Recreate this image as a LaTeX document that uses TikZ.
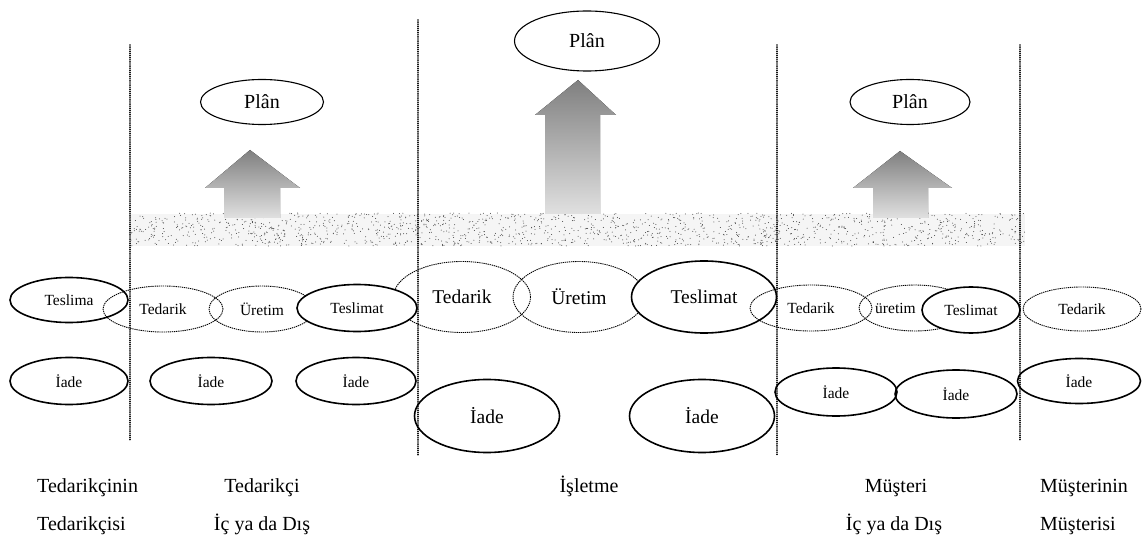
\documentclass[tikz,border=0pt]{standalone}
\usepackage{fontspec}
\setmainfont{Liberation Serif}
\usetikzlibrary{shapes.geometric}
\begin{document}
\begin{tikzpicture}[x=1pt,y=-1pt,
  ell/.style={ellipse, inner sep=0pt, minimum width=#1},
  solidell/.style={draw=black, line width=1.6pt},
  dotell/.style={draw=black, line width=0.9pt, dash pattern=on 1.3pt off 0.8pt},
  planell/.style={draw=black, line width=1.1pt, minimum height=45, font=\fontsize{20}{24}\selectfont},
  smallf/.style={font=\fontsize{15.5}{18}\selectfont, minimum height=46},
  bigf/.style={font=\fontsize{19.5}{23}\selectfont, minimum height=71},
  vline/.style={line width=1.8pt, dash pattern=on 0.01pt off 2.1pt, line cap=round},
  uparrow/.style={top color=black!50, bottom color=black!12, draw=none},
  lbl/.style={font=\fontsize{20}{24}\selectfont, anchor=base, inner sep=0pt}
]
\useasboundingbox (0,0) rectangle (1145,537);

% speckled band
\fill[black!4] (130,214) rectangle (1025,246);
\pgfmathsetseed{7}
\foreach \i in {1,...,1500}{
  \fill[black!75] ({130+895*rnd},{213+33*rnd}) circle[radius=0.5];
}

% upward arrows
\fill[uparrow] (250,150) -- (300,188) -- (280,188) -- (280,218) -- (224,218) -- (224,188) -- (205,188) -- cycle;
\fill[uparrow] (578,80) -- (616,115) -- (600,115) -- (600,214) -- (545,214) -- (545,115) -- (535,115) -- cycle;
\fill[uparrow] (900,151) -- (952,188) -- (928,188) -- (928,218) -- (873,218) -- (873,188) -- (853,188) -- cycle;

% Plan ellipses
\node[ell=123, planell] (p1) at (262,102) {Plân};
\node[ell=145, planell, minimum height=60] (p2) at (587,41) {Plân};
\node[ell=120, planell] (p3) at (910,102) {Plân};

% left section
\node[ell=118, smallf, solidell, minimum height=45] (t1) at (69,300) {Teslima};
\node[ell=120, smallf, dotell] (t2) at (163,309) {Tedarik};
\node[ell=106, smallf, dotell] (t3) at (262,309) {Üretim};
% middle section dotted
\node[ell=137, bigf, dotell] (m1) at (462,297) {Tedarik};
\node[ell=132, bigf, dotell] (m2) at (579,297) {Üretim};
\node[ell=120, smallf, solidell, fill=white, minimum height=47] (t4) at (357,308) {Teslimat};
\node[ell=145, bigf, solidell, fill=white, minimum height=72] (m3) at (704,297) {Teslimat};

% right section
\node[ell=122, smallf, dotell] (r1) at (811,308) {Tedarik};
\node[ell=112, smallf, dotell] (r2) at (915,308) {};
\node[font=\fontsize{15.5}{18}\selectfont, anchor=west, inner sep=0pt] (r2t) at (875,308) {üretim};
\node[ell=98, smallf, solidell, fill=white] (r3) at (971,310) {Teslimat};
\node[ell=118, smallf, dotell, minimum height=44] (r4) at (1082,309) {Tedarik};

% return row
\node[ell=118, smallf, solidell, minimum height=47] (i1) at (69,381) {İade};
\node[ell=122, smallf, solidell, minimum height=47] (i2) at (211,381) {İade};
\node[ell=120, smallf, solidell, minimum height=47] (i3) at (356,381) {İade};
\node[ell=145, bigf, solidell, minimum height=73] (m4) at (487,416) {İade};
\node[ell=145, bigf, solidell, minimum height=73] (m5) at (702,416) {İade};
\node[ell=122, smallf, solidell, minimum height=48] (ri1) at (836,392) {İade};
\node[ell=122, smallf, solidell, minimum height=48] (ri2) at (956,394) {İade};
\node[ell=123, smallf, solidell, minimum height=45] (ri3) at (1079,381) {İade};

% vertical separators
\coordinate (v1t) at (130,45);  \coordinate (v1b) at (130,440);
\coordinate (v2t) at (418,20);  \coordinate (v2b) at (418,455);
\coordinate (v3t) at (777,45);  \coordinate (v3b) at (777,455);
\coordinate (v4t) at (1020,45); \coordinate (v4b) at (1020,440);
\draw[vline] (v1t) -- (v1b);
\draw[vline] (v2t) -- (v2b);
\draw[vline] (v3t) -- (v3b);
\draw[vline] (v4t) -- (v4b);

% bottom labels
\node[lbl, anchor=base west] (b1) at (37,492) {Tedarikçinin};
\node[lbl, anchor=base west] (b2) at (37,530) {Tedarikçisi};
\node[lbl] (b3) at (262,492) {Tedarikçi};
\node[lbl] (b4) at (262,530) {İç ya da Dış};
\node[lbl] (b5) at (589,492) {İşletme};
\node[lbl] (b6) at (896,492) {Müşteri};
\node[lbl] (b7) at (894,530) {İç ya da Dış};
\node[lbl, anchor=base west] (b8) at (1040,492) {Müşterinin};
\node[lbl, anchor=base west] (b9) at (1040,530) {Müşterisi};
\end{tikzpicture}
\end{document}
